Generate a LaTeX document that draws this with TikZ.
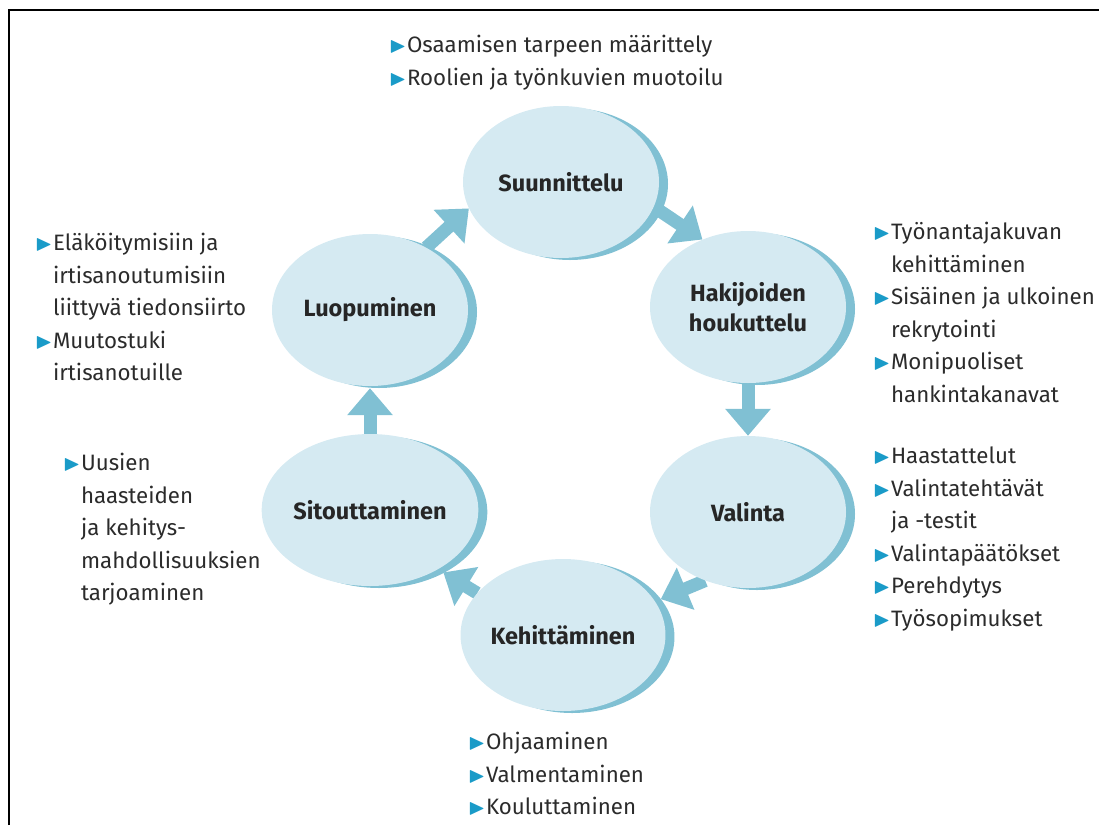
\documentclass[tikz,border=0pt]{standalone}
\usepackage{amssymb}
\usepackage{fontspec}
\setmainfont{Fira Sans}
\usepackage{tikz}
\usepackage{xcolor}
\usetikzlibrary{arrows.meta, shapes.geometric, shadows, backgrounds, positioning}

\definecolor{pale}{HTML}{D5EAF2}
\definecolor{rim}{HTML}{80C0D3}
\definecolor{bulletblue}{HTML}{1A9BC8}
\definecolor{ink}{HTML}{2B2B2B}

\newcommand{\bul}{\makebox[0.8em][l]{\textcolor{bulletblue}{$\blacktriangleright$}}}
\newcommand{\ind}{\hspace*{0.8em}}

\tikzset{
  phase/.style={ellipse, fill=pale, minimum width=196pt, minimum height=152pt, inner sep=0pt,
    general shadow={fill=rim, shadow xshift=9pt, shadow yshift=-2pt},
    align=center, text=black!85, font=\fontsize{23.5}{30}\selectfont\bfseries},
  flow/.style={draw=rim, line width=13pt, -{Triangle[width=44pt,length=27pt]}},
  list/.style={anchor=north west, inner sep=0pt, align=left, text=ink,
    font=\fontsize{22.3}{32.5}\selectfont}
}

\begin{document}
\begin{tikzpicture}[x=1pt, y=-1pt]
    \useasboundingbox (0,0) rectangle (1099,825);
    \draw[line width=2pt] (9,825) -- (9,10) -- (1099,10);

    \node[phase] (suu) at (561, 182) {Suunnittelu};
    \node[phase] (hak) at (748, 307) {Hakijoiden\\houkuttelu};
    \node[phase] (val) at (748, 512) {Valinta};
    \node[phase] (keh) at (563, 635) {Kehittäminen};
    \node[phase] (sit) at (370, 510) {Sitouttaminen};
    \node[phase] (luo) at (370, 310) {Luopuminen};

    \begin{scope}[on background layer]
        \draw[flow] (luo.48) -- (suu.196);
        \draw[flow] (suu.-15) -- (hak.124);
        \draw[flow] (hak.south) -- (val.north);
        \draw[flow, shorten >=6pt] (val.238) -- (keh.20);
        \draw[flow, shorten >=6pt] (keh.154) -- (sit.-41);
        \draw[flow, shorten >=2pt] (sit.north) -- (luo.south);
    \end{scope}

    \node[list] (tsuu) at (389, 35) {\bul Osaamisen tarpeen määrittely\\
        \bul Roolien ja työnkuvien muotoilu};
    \node[list] (thak) at (873, 222) {\bul Työnantajakuvan\\ \ind kehittäminen\\
        \bul Sisäinen ja ulkoinen\\ \ind rekrytointi\\
        \bul Monipuoliset\\ \ind hankintakanavat};
    \node[list] (tval) at (873, 447) {\bul Haastattelut\\
        \bul Valintatehtävät\\ \ind ja -testit\\
        \bul Valintapäätökset\\
        \bul Perehdytys\\
        \bul Työsopimukset};
    \node[list] (tkeh) at (468, 732) {\bul Ohjaaminen\\
        \bul Valmentaminen\\
        \bul Kouluttaminen};
    \node[list] (tsit) at (63, 453) {\bul Uusien\\ \ind haasteiden\\ \ind ja kehitys-\\
        \ind mahdollisuuksien\\ \ind tarjoaminen};
    \node[list] (tluo) at (35, 233) {\bul Eläköitymisiin ja\\ \ind irtisanoutumisiin\\
        \ind liittyvä tiedonsiirto\\
        \bul Muutostuki\\ \ind irtisanotuille};
\end{tikzpicture}
\end{document}
